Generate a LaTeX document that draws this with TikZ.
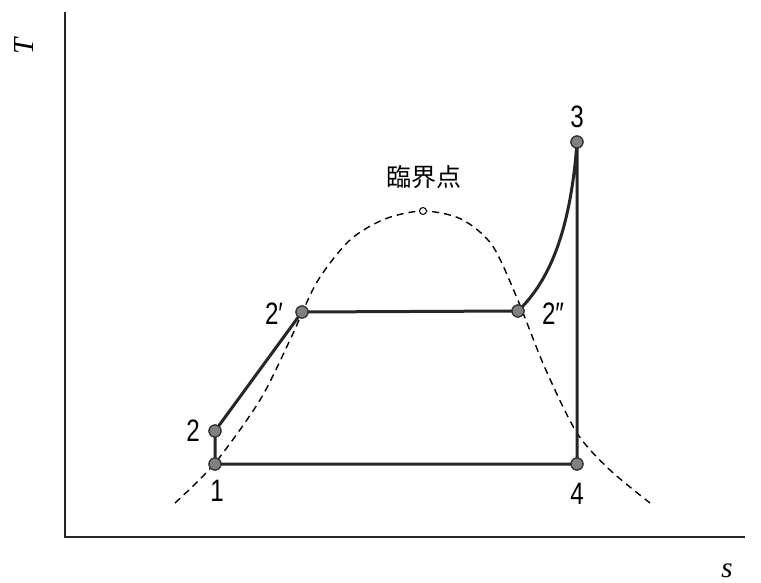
\documentclass[tikz,border=0pt]{standalone}
\usepackage{fontspec}
\newfontfamily\labfont[FakeStretch=0.78]{Liberation Sans}
\newfontfamily\axfont{Liberation Serif}
\newfontfamily\cjkfont{Noto Sans CJK JP}
\begin{document}
\begin{tikzpicture}[x=1pt,y=-1pt,
  axis/.style={line width=1.3pt,black!85},
  proc/.style={line width=3pt,black!85,line cap=round},
  sat/.style={line width=1.4pt,black,dash pattern=on 7pt off 5pt},
  statept/.style={circle,draw=black!80,fill=black!50,line width=1.2pt,minimum size=12pt,inner sep=0pt},
  critpt/.style={circle,draw=black,fill=white,line width=1pt,minimum size=7pt,inner sep=0pt},
  lab/.style={font=\labfont\fontsize{31}{31}\selectfont,inner sep=0pt},
  axlab/.style={font=\axfont\fontsize{29}{29}\selectfont\itshape,inner sep=0pt}]
\useasboundingbox (0,0) rectangle (761,583);
% axes
\coordinate (O) at (65,537);
\coordinate (Ytop) at (65,12);
\coordinate (Xend) at (745,537);
\draw[axis] (Ytop) -- (O) -- (Xend);
\node[axlab,rotate=90] (Tlab) at (24,46) {T};
\node[axlab] (slab) at (727,571) {s};
% saturation dome
\draw[sat] plot[smooth] coordinates {(175,503) (215,463) (260,400) (290,340) (317,282) (350,240) (385,219) (423,211) (461,219) (492,245) (517,298) (545,368) (577,433) (610,470) (650,503)};
% state points
\node[statept] (p1) at (215,464) {};
\node[statept] (p2) at (215,431) {};
\node[statept] (p2a) at (302,312) {};
\node[statept] (p2b) at (518,311) {};
\node[statept] (p3) at (577,142) {};
\node[statept] (p4) at (577,464) {};
\node[critpt] (cp) at (423,211) {};
% processes
\draw[proc] (p1.center) -- (p2.center) -- (p2a.center) -- (p2b.center)
  .. controls (545,285) and (570,240) .. (p3.center) -- (p4.center) -- cycle;
% redraw points on top
\node[statept] at (p1) {};
\node[statept] at (p2) {};
\node[statept] at (p2a) {};
\node[statept] at (p2b) {};
\node[statept] at (p3) {};
\node[statept] at (p4) {};
% labels
\node[lab] (l1) at (217,491) {1};
\node[lab] (l2) at (193,431) {2};
\node[lab] (l2a) at (274,314) {2′};
\node[lab] (l2b) at (553,314) {2″};
\node[lab] (l3) at (577,117) {3};
\node[lab] (l4) at (577,494) {4};
\node[font=\cjkfont\fontsize{25}{25}\selectfont,inner sep=0pt] (cl) at (424,177) {臨界点};
\end{tikzpicture}
\end{document}
